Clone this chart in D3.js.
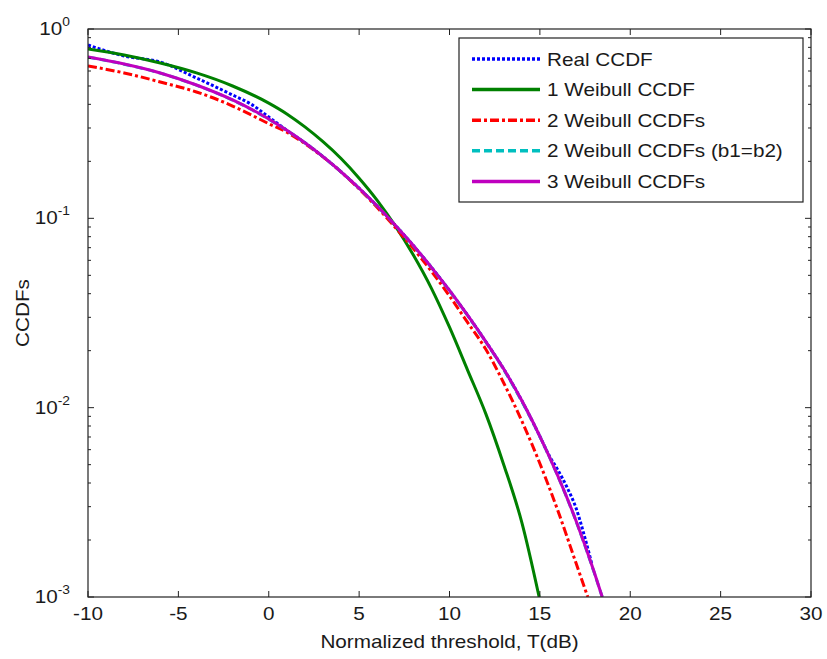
<!DOCTYPE html>
<html>
<head>
<meta charset="utf-8">
<script src="https://cdn.jsdelivr.net/npm/d3@7"></script>
<style>
  body { margin: 0; background: #fff; }
  svg { font-family: "Liberation Sans", Arial, sans-serif; }
</style>
</head>
<body>
<svg id="chart" width="827" height="659"></svg>
<script>
// threshold values (dB) and CCDF readings for each curve
const realT = [-10, -8, -6, -4, -2, -1, 0, 1, 2, 3, 4, 5, 6, 7, 8, 9, 10, 11, 12, 13, 14, 15, 15.5, 16, 16.5, 17, 17.5, 17.87];
const realCcdf = [0.823, 0.72, 0.669, 0.551, 0.448, 0.402, 0.343, 0.2917, 0.2506, 0.2118, 0.1762, 0.1442, 0.1161, 0.092, 0.0718, 0.0551, 0.0416, 0.0308, 0.0224, 0.016, 0.0109, 0.00705, 0.00562, 0.00468, 0.0038, 0.00295, 0.00204, 0.0015];

const weib1T = [-10, -8, -6, -4, -2, 0, 1, 2, 3, 4, 5, 6, 7, 8, 9, 10, 11, 12, 13, 14, 14.96];
const weib1Ccdf = [0.784, 0.729, 0.661, 0.586, 0.5, 0.406, 0.356, 0.304, 0.254, 0.207, 0.163, 0.1245, 0.0912, 0.064, 0.0427, 0.0266, 0.0158, 0.00933, 0.005, 0.00248, 0.001];

const weib2T = [-10, -8, -6, -4, -2, -1, 0, 1, 2, 3, 4, 5, 6, 7, 8, 9, 10, 11, 12, 13, 14, 15, 16, 17, 17.65];
const weib2Ccdf = [0.638, 0.586, 0.525, 0.465, 0.392, 0.353, 0.316, 0.285, 0.248, 0.211, 0.176, 0.143, 0.114, 0.0895, 0.0692, 0.0525, 0.0389, 0.0282, 0.0204, 0.0135, 0.00851, 0.00507, 0.00285, 0.00151, 0.001];

const weib2eqT = [-10, -8, -6, -4, -2, 0, 1, 2, 3, 4, 5, 6, 7, 8, 9, 10, 11, 12, 13, 14, 15, 16, 17, 18, 18.45];
const weib2eqCcdf = [0.71, 0.652, 0.585, 0.505, 0.421, 0.334, 0.2915, 0.2505, 0.2117, 0.1761, 0.1441, 0.116, 0.0919, 0.0717, 0.055, 0.0415, 0.0307, 0.0223, 0.0159, 0.0108, 0.00704, 0.00434, 0.00252, 0.00135, 0.001];

const weib3T = [-10, -8, -6, -4, -2, 0, 1, 2, 3, 4, 5, 6, 7, 8, 9, 10, 11, 12, 13, 14, 15, 16, 17, 18, 18.45];
const weib3Ccdf = [0.711, 0.653, 0.586, 0.506, 0.422, 0.335, 0.2917, 0.2506, 0.2118, 0.1762, 0.1442, 0.1161, 0.092, 0.0718, 0.0551, 0.0416, 0.0308, 0.0224, 0.016, 0.0109, 0.00705, 0.00435, 0.00253, 0.00136, 0.001];

const xTicks = [-10, -5, 0, 5, 10, 15, 20, 25, 30];
const yDecades = [-3, -2, -1, 0];

const series = [
  { name: 'Real CCDF', t: realT, v: realCcdf, color: '#0000ff', dash: '3,2' },
  { name: '1 Weibull CCDF', t: weib1T, v: weib1Ccdf, color: '#008000', dash: null },
  { name: '2 Weibull CCDFs', t: weib2T, v: weib2Ccdf, color: '#ff0000', dash: '9,3,3,3' },
  { name: '2 Weibull CCDFs (b1=b2)', t: weib2eqT, v: weib2eqCcdf, color: '#00bfbf', dash: '8,4' },
  { name: '3 Weibull CCDFs', t: weib3T, v: weib3Ccdf, color: '#bf00bf', dash: null }
];

const margin = { top: 29, right: 16, bottom: 62, left: 88 };
const W = 827, H = 659;
const width = W - margin.left - margin.right;
const height = H - margin.top - margin.bottom;
const textColor = '#1a1a1a';
const axisColor = '#222';
const stretch = 1.15; // the original lettering is a bit wider than Arial

const svg = d3.select('#chart');
const g = svg.append('g').attr('transform', `translate(${margin.left},${margin.top})`);

const x = d3.scaleLinear().domain([-10, 30]).range([0, width]);
const y = d3.scaleLog().domain([1e-3, 1]).range([height, 0]);

function label(parent, px, py, str, anchor, rot) {
  return parent.append('text')
    .attr('transform', `translate(${px},${py})${rot ? ` rotate(${rot})` : ''} scale(${stretch},1)`)
    .attr('text-anchor', anchor)
    .attr('font-size', 18)
    .attr('fill', textColor)
    .text(str);
}

svg.append('defs').append('clipPath').attr('id', 'clip')
  .append('rect').attr('width', width).attr('height', height);

// curves
const line = d3.line().x(d => x(d[0])).y(d => y(d[1])).curve(d3.curveMonotoneX);
const curves = g.append('g').attr('clip-path', 'url(#clip)');
series.forEach(s => {
  const pts = s.t.map((t, i) => [t, s.v[i]]);
  curves.append('path')
    .datum(pts)
    .attr('d', line)
    .attr('fill', 'none')
    .attr('stroke', s.color)
    .attr('stroke-width', 3)
    .attr('stroke-dasharray', s.dash);
});

// ticks, pointing inward on all four sides
const ticks = g.append('g').attr('stroke', axisColor).attr('stroke-width', 1);
xTicks.forEach(t => {
  ticks.append('line').attr('x1', x(t)).attr('x2', x(t)).attr('y1', height).attr('y2', height - 6);
  ticks.append('line').attr('x1', x(t)).attr('x2', x(t)).attr('y1', 0).attr('y2', 6);
});
yDecades.forEach(e => {
  const base = Math.pow(10, e);
  ticks.append('line').attr('x1', 0).attr('x2', 6).attr('y1', y(base)).attr('y2', y(base));
  ticks.append('line').attr('x1', width).attr('x2', width - 6).attr('y1', y(base)).attr('y2', y(base));
  if (e < 0) {
    for (let k = 2; k <= 9; k++) {
      const v = base * k;
      ticks.append('line').attr('x1', 0).attr('x2', 3).attr('y1', y(v)).attr('y2', y(v));
      ticks.append('line').attr('x1', width).attr('x2', width - 3).attr('y1', y(v)).attr('y2', y(v));
    }
  }
});

g.append('rect')
  .attr('width', width).attr('height', height)
  .attr('fill', 'none').attr('stroke', axisColor).attr('stroke-width', 1.2);

// tick labels
xTicks.forEach(t => label(g, x(t), height + 23, t, 'middle'));

yDecades.forEach(e => {
  const t = label(g, -18, y(Math.pow(10, e)) + 6, '', 'end');
  t.append('tspan').text('10');
  t.append('tspan').attr('dy', -9).attr('font-size', 12).text(e);
});

// axis titles
label(svg, margin.left + width / 2, 648, 'Normalized threshold, T(dB)', 'middle');
label(svg, 29, margin.top + height / 2, 'CCDFs', 'middle', -90);

// legend
const legend = svg.append('g').attr('transform', 'translate(459,38)');
legend.append('rect')
  .attr('width', 344).attr('height', 164)
  .attr('fill', '#fff').attr('stroke', axisColor).attr('stroke-width', 1.2);
series.forEach((s, i) => {
  const ly = 21 + i * 30.6;
  legend.append('line')
    .attr('x1', 13).attr('x2', 81).attr('y1', ly).attr('y2', ly)
    .attr('stroke', s.color).attr('stroke-width', 3.5)
    .attr('stroke-dasharray', s.dash);
  label(legend, 88, ly + 6.5, s.name, 'start');
});
</script>
</body>
</html>
